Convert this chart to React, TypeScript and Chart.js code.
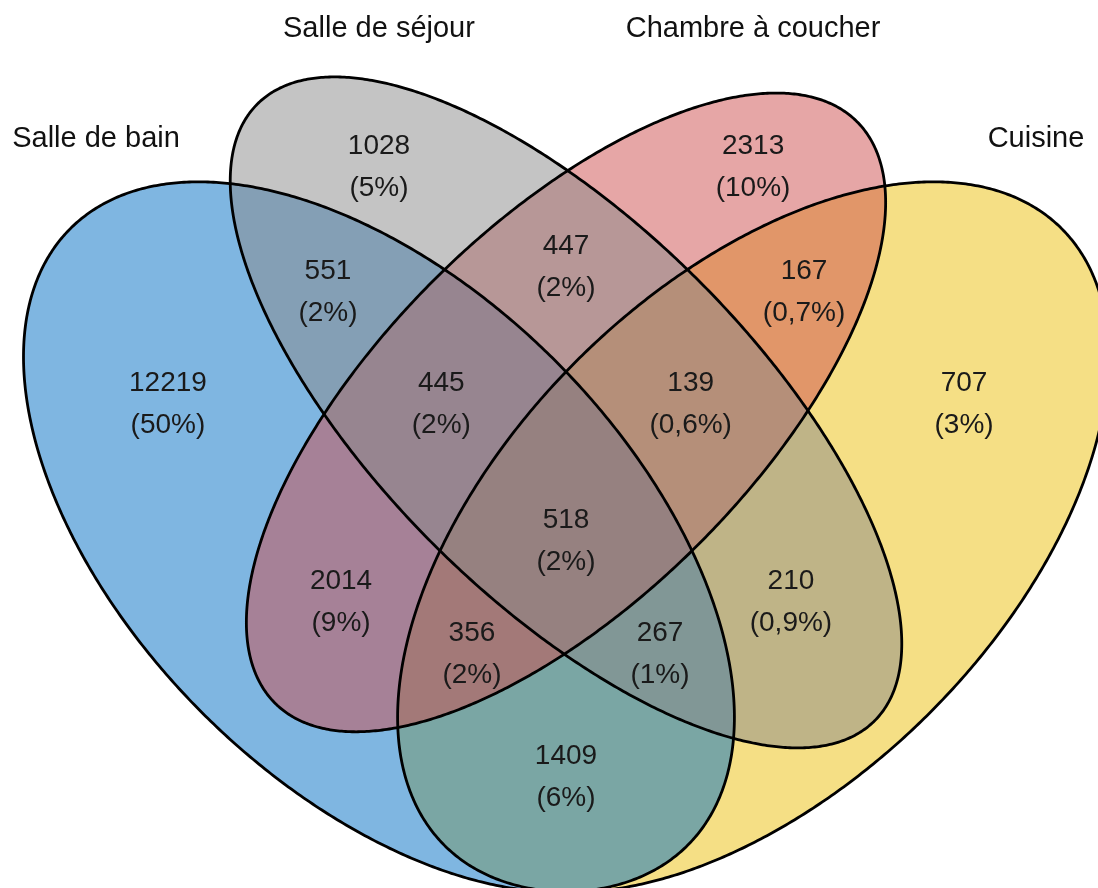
import React, { useEffect, useRef } from "react";
import { Chart, registerables } from "chart.js";

Chart.register(...registerables);

// Sets (category labels) and their label anchor positions (diagram units)
const setNames = ["Salle de bain", "Salle de séjour", "Chambre à coucher", "Cuisine"];
const setLabelX = [0.1231, 0.35, 0.65, 0.8769];
const setLabelY = [0.791, 0.8793, 0.8793, 0.791];

// Ellipse geometry (diagram units)
const ellipseX = [0.35, 0.5, 0.5, 0.65];
const ellipseY = [0.47, 0.57, 0.57, 0.47];
const ellipseA = [0.35, 0.35, 0.33, 0.35];
const ellipseB = [0.2, 0.15, 0.15, 0.2];
const ellipseRotation = [135, 135, 45, 45];
const setColors = ["rgb(0,109,195)", "rgb(137,137,137)", "rgb(205,77,77)", "rgb(235,191,11)"];
const fillOrder = [3, 0, 2, 1];

// Region counts, percentages and label anchors (diagram units)
const regionCounts = [12219, 1028, 2313, 707, 551, 447, 167, 445, 139, 518, 2014, 210, 356, 267, 1409];
const regionPercents = ["50%", "5%", "10%", "3%", "2%", "2%", "0,7%", "2%", "0,6%", "2%", "9%", "0,9%", "2%", "1%", "6%"];
const regionX = [0.1808, 0.35, 0.65, 0.8192, 0.3091, 0.5, 0.6909, 0.4, 0.6, 0.5, 0.3196, 0.6804, 0.4246, 0.5754, 0.5];
const regionY = [0.5787, 0.7686, 0.7686, 0.5787, 0.6682, 0.6883, 0.6682, 0.5787, 0.5787, 0.4688, 0.4194, 0.4194, 0.3781, 0.3781, 0.279];

const FONT = "'Liberation Sans', Arial, Helvetica, sans-serif";

const vennPlugin = {
  id: "vennEllipses",
  beforeDatasetsDraw(chart: any) {
    const { ctx } = chart;
    const xs = chart.scales.x;
    const ys = chart.scales.y;
    const tracePath = (i: number) => {
      const r = (ellipseRotation[i] * Math.PI) / 180;
      ctx.beginPath();
      const steps = 720;
      for (let k = 0; k <= steps; k++) {
        const t = (k / steps) * 2 * Math.PI;
        const ux = ellipseX[i] + ellipseA[i] * Math.cos(t) * Math.cos(r) - ellipseB[i] * Math.sin(t) * Math.sin(r);
        const uy = ellipseY[i] + ellipseA[i] * Math.cos(t) * Math.sin(r) + ellipseB[i] * Math.sin(t) * Math.cos(r);
        const px = xs.getPixelForValue(ux);
        const py = ys.getPixelForValue(uy);
        if (k === 0) ctx.moveTo(px, py);
        else ctx.lineTo(px, py);
      }
      ctx.closePath();
    };
    ctx.save();
    ctx.globalAlpha = 0.5;
    fillOrder.forEach((i) => {
      tracePath(i);
      ctx.fillStyle = setColors[i];
      ctx.fill();
    });
    ctx.globalAlpha = 1;
    ctx.lineWidth = 2.8;
    ctx.strokeStyle = "#000";
    ctx.lineJoin = "round";
    fillOrder.forEach((i) => {
      tracePath(i);
      ctx.stroke();
    });
    ctx.restore();
  },
  afterDatasetsDraw(chart: any) {
    const { ctx } = chart;
    ctx.save();
    ctx.textAlign = "center";
    ctx.textBaseline = "alphabetic";
    const regionMeta = chart.getDatasetMeta(0);
    const numSize = 28;
    ctx.font = `${numSize}px ${FONT}`;
    ctx.fillStyle = "#1a1a1a";
    regionMeta.data.forEach((el: any, i: number) => {
      const cx = el.x;
      const cy = el.y;
      ctx.fillText(String(regionCounts[i]), cx, cy - 21 + 0.358 * numSize);
      ctx.fillText(`(${regionPercents[i]})`, cx, cy + 21 + 0.358 * numSize);
    });
    const setMeta = chart.getDatasetMeta(1);
    const catSize = 29;
    ctx.font = `${catSize}px ${FONT}`;
    ctx.fillStyle = "#111";
    setMeta.data.forEach((el: any, i: number) => {
      ctx.fillText(setNames[i], el.x, el.y + 0.358 * catSize);
    });
    ctx.restore();
  },
};

export default function App() {
  const canvasRef = useRef<HTMLCanvasElement | null>(null);

  useEffect(() => {
    document.body.style.margin = "0";
    const canvas = canvasRef.current;
    if (!canvas) return;
    const chart = new Chart(canvas, {
      type: "scatter",
      data: {
        datasets: [
          {
            label: "Régions",
            data: regionX.map((x, i) => ({ x, y: regionY[i] })),
            pointRadius: 0,
            pointHoverRadius: 0,
          },
          {
            label: "Ensembles",
            data: setLabelX.map((x, i) => ({ x, y: setLabelY[i] })),
            pointRadius: 0,
            pointHoverRadius: 0,
          },
        ],
      },
      options: {
        animation: false,
        responsive: false,
        events: [],
        layout: { padding: 0 },
        plugins: {
          legend: { display: false },
          tooltip: { enabled: false },
          title: { display: false },
        },
        scales: {
          x: { type: "linear", min: 0.04611, max: 0.92662, display: false },
          y: { type: "linear", min: 0.1883, max: 0.90098, display: false },
        },
      },
      plugins: [vennPlugin],
    });
    return () => chart.destroy();
  }, []);

  return (
    <div style={{ width: 1098, height: 888, background: "#fff" }}>
      <canvas ref={canvasRef} width={1098} height={888} style={{ display: "block" }} />
    </div>
  );
}
